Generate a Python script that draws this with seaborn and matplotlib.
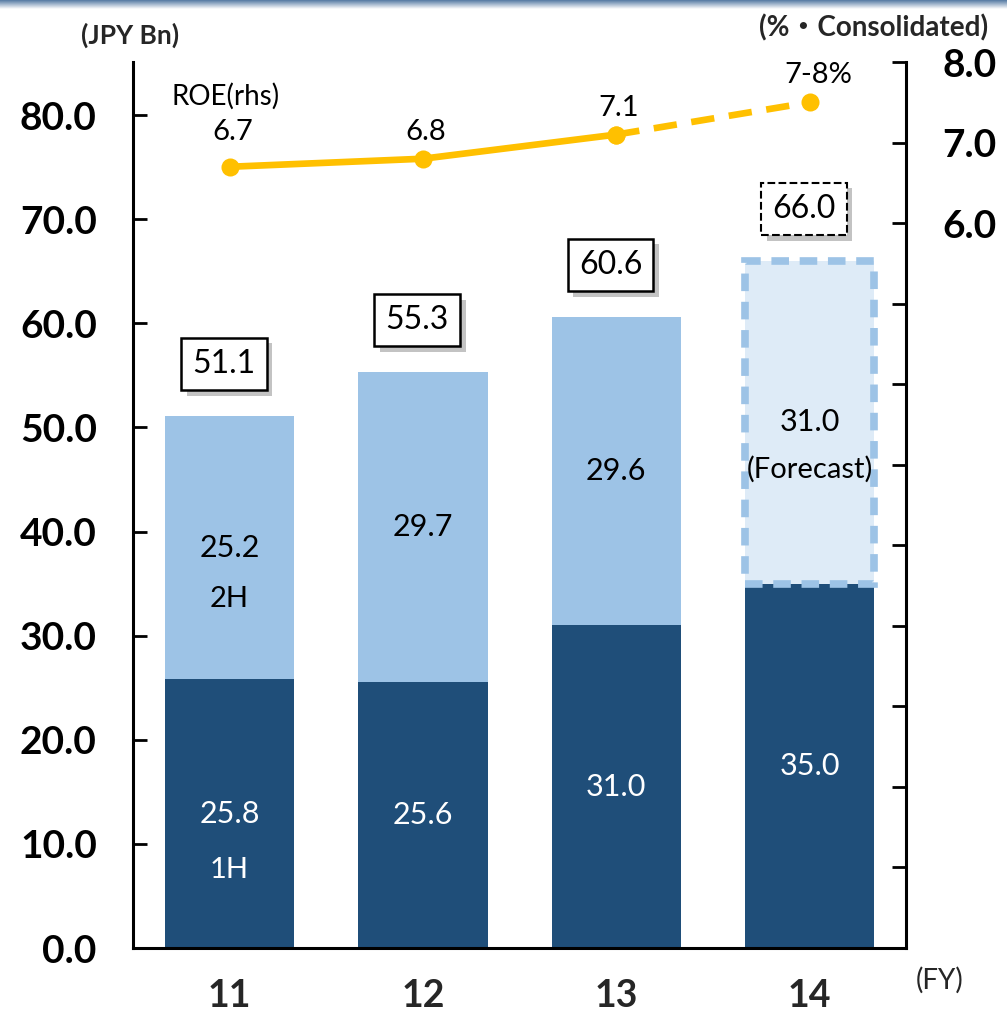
import numpy as np
import matplotlib
matplotlib.use("Agg")
import matplotlib.pyplot as plt
import matplotlib.patheffects as pe
import seaborn as sns

# Net income by half-year (JPY Bn) and consolidated ROE (%)
fiscal_years = ["11", "12", "13", "14"]
first_half = [25.8, 25.6, 31.0, 35.0]
second_half = [25.2, 29.7, 29.6, 31.0]
totals = [51.1, 55.3, 60.6, 66.0]
roe = [6.7, 6.8, 7.1, 7.5]
roe_labels = ["6.7", "6.8", "7.1", "7-8%"]
left_ticks = [0, 10, 20, 30, 40, 50, 60, 70, 80]
right_ticks = list(range(-3, 9))
right_shown = [6, 7, 8]

DARK = "#1F4E79"
LIGHT = "#9DC3E6"
FORECAST_FILL = "#DEEBF7"
GOLD = "#FFC000"

sns.set_theme(style="white")
plt.rcParams["font.family"] = ["Lato", "Noto Sans CJK JP", "DejaVu Sans"]

fig = plt.figure(figsize=(10.07, 10.16), dpi=100)
ax = fig.add_axes([0.132, 0.0669, 0.768, 0.872])

# Stacked bars: full-year totals underneath, first half drawn over them
sns.barplot(x=fiscal_years, y=totals, color=LIGHT, saturation=1, width=0.67,
            linewidth=0, ax=ax)
sns.barplot(x=fiscal_years, y=first_half, color=DARK, saturation=1, width=0.67,
            linewidth=0, ax=ax)

# FY14 second half is a forecast: light fill with dashed outline
fc = ax.patches[3]
fc.set_y(first_half[3])
fc.set_height(second_half[3])
fc.set_facecolor(FORECAST_FILL)
fc.set_edgecolor(LIGHT)
fc.set_linewidth(5.5)
fc.set_linestyle((0, (2.3, 1.4)))
fc.set_zorder(3)

ax.set_xlim(-0.5, 3.5)
ax.set_ylim(0, 85.1)
ax.set_yticks(left_ticks)
ax.set_yticklabels([f"{v:.1f}" for v in left_ticks])
ax.tick_params(axis="y", direction="in", length=10, width=2, pad=26,
               labelsize=28, colors="black")
ax.tick_params(axis="x", length=0, pad=22, labelsize=27)
for lab in ax.get_xticklabels() + ax.get_yticklabels():
    lab.set_fontweight("bold")
ax.set_xlabel("")
ax.set_ylabel("")
for side in ["top", "right"]:
    ax.spines[side].set_visible(False)
for side in ["left", "bottom"]:
    ax.spines[side].set_color("black")
    ax.spines[side].set_linewidth(2.2)

x_pos = np.arange(len(fiscal_years))

# Segment value labels
for i in x_pos:
    ax.text(i, first_half[i] / 2, f"{first_half[i]:.1f}", ha="center", va="center",
            color="white", fontsize=22, zorder=5)
    ax.text(i, first_half[i] + second_half[i] / 2, f"{second_half[i]:.1f}",
            ha="center", va="center", color="black", fontsize=22, zorder=5)
ax.text(0, first_half[0] / 2 - 5.4, "1H", ha="center", va="center",
        color="white", fontsize=21, zorder=5)
ax.text(0, first_half[0] + second_half[0] / 2 - 4.9, "2H", ha="center",
        va="center", color="black", fontsize=21, zorder=5)
ax.text(3, first_half[3] + second_half[3] / 2 - 4.5, "(Forecast)", ha="center",
        va="center", color="black", fontsize=21, zorder=5)

# Boxed totals with drop shadow
shadow = [pe.withSimplePatchShadow(offset=(4, -4), shadow_rgbFace="#888888",
                                   alpha=0.5)]
for i in x_pos:
    forecast = i == len(fiscal_years) - 1
    t = ax.text(i - 0.03, totals[i] + 5, f"{totals[i]:.1f}", ha="center",
                va="center", fontsize=23, color="black", zorder=6,
                bbox=dict(boxstyle="square,pad=0.35", facecolor="white",
                          edgecolor="black", linewidth=1.8 if not forecast else 1.5,
                          linestyle="--" if forecast else "-"))
    t.get_bbox_patch().set_path_effects(shadow)

# ROE on the secondary axis
ax2 = ax.twinx()
sns.lineplot(x=x_pos[:3], y=roe[:3], ax=ax2, color=GOLD, linewidth=4.8,
             marker="o", markersize=13, markeredgewidth=0)
sns.lineplot(x=x_pos[2:], y=roe[2:], ax=ax2, color=GOLD, linewidth=4.8,
             linestyle=(0, (3.5, 2.2)), marker="o", markersize=13,
             markeredgewidth=0)
ax2.set_ylim(-3, 8)
ax2.set_yticks(right_ticks)
ax2.set_yticklabels([f"{v:.1f}" if v in right_shown else "" for v in right_ticks])
ax2.tick_params(axis="y", direction="in", length=10, width=2, pad=26,
                labelsize=28, colors="black")
for lab in ax2.get_yticklabels():
    lab.set_fontweight("bold")
ax2.set_ylabel("")
for side in ["top", "left", "bottom"]:
    ax2.spines[side].set_visible(False)
ax2.spines["right"].set_color("black")
ax2.spines["right"].set_linewidth(2.2)

for i in x_pos:
    ax2.annotate(roe_labels[i], (i, roe[i]), xytext=(2 if i < 3 else 6, 16 if i == 0 else 10),
                 textcoords="offset points", ha="center", va="bottom",
                 fontsize=21, color="black")
ax2.annotate("ROE(rhs)", (0, roe[0]), xytext=(-3, 41), textcoords="offset points",
             ha="center", va="bottom", fontsize=20, color="black")

# Unit captions
fig.text(130 / 1007, 1 - 35 / 1016, "(JPY Bn)", ha="center", va="center",
         fontsize=19, fontweight="bold")
fig.text(874 / 1007, 1 - 28 / 1016, "(%・Consolidated)", ha="center",
         va="center", fontsize=20, fontweight="bold")
fig.text(940 / 1007, 1 - 980 / 1016, "(FY)", ha="center", va="center",
         fontsize=20)

# Thin header band along the top edge
band = fig.add_axes([0, 1 - 9 / 1016, 1, 9 / 1016])
grad = np.linspace(0, 1, 50).reshape(-1, 1)
band.imshow(grad, aspect="auto", cmap=matplotlib.colors.LinearSegmentedColormap
            .from_list("band", ["#557AA3", "#FFFFFF"]))
band.set_axis_off()

fig.savefig("out.png", dpi=100)
